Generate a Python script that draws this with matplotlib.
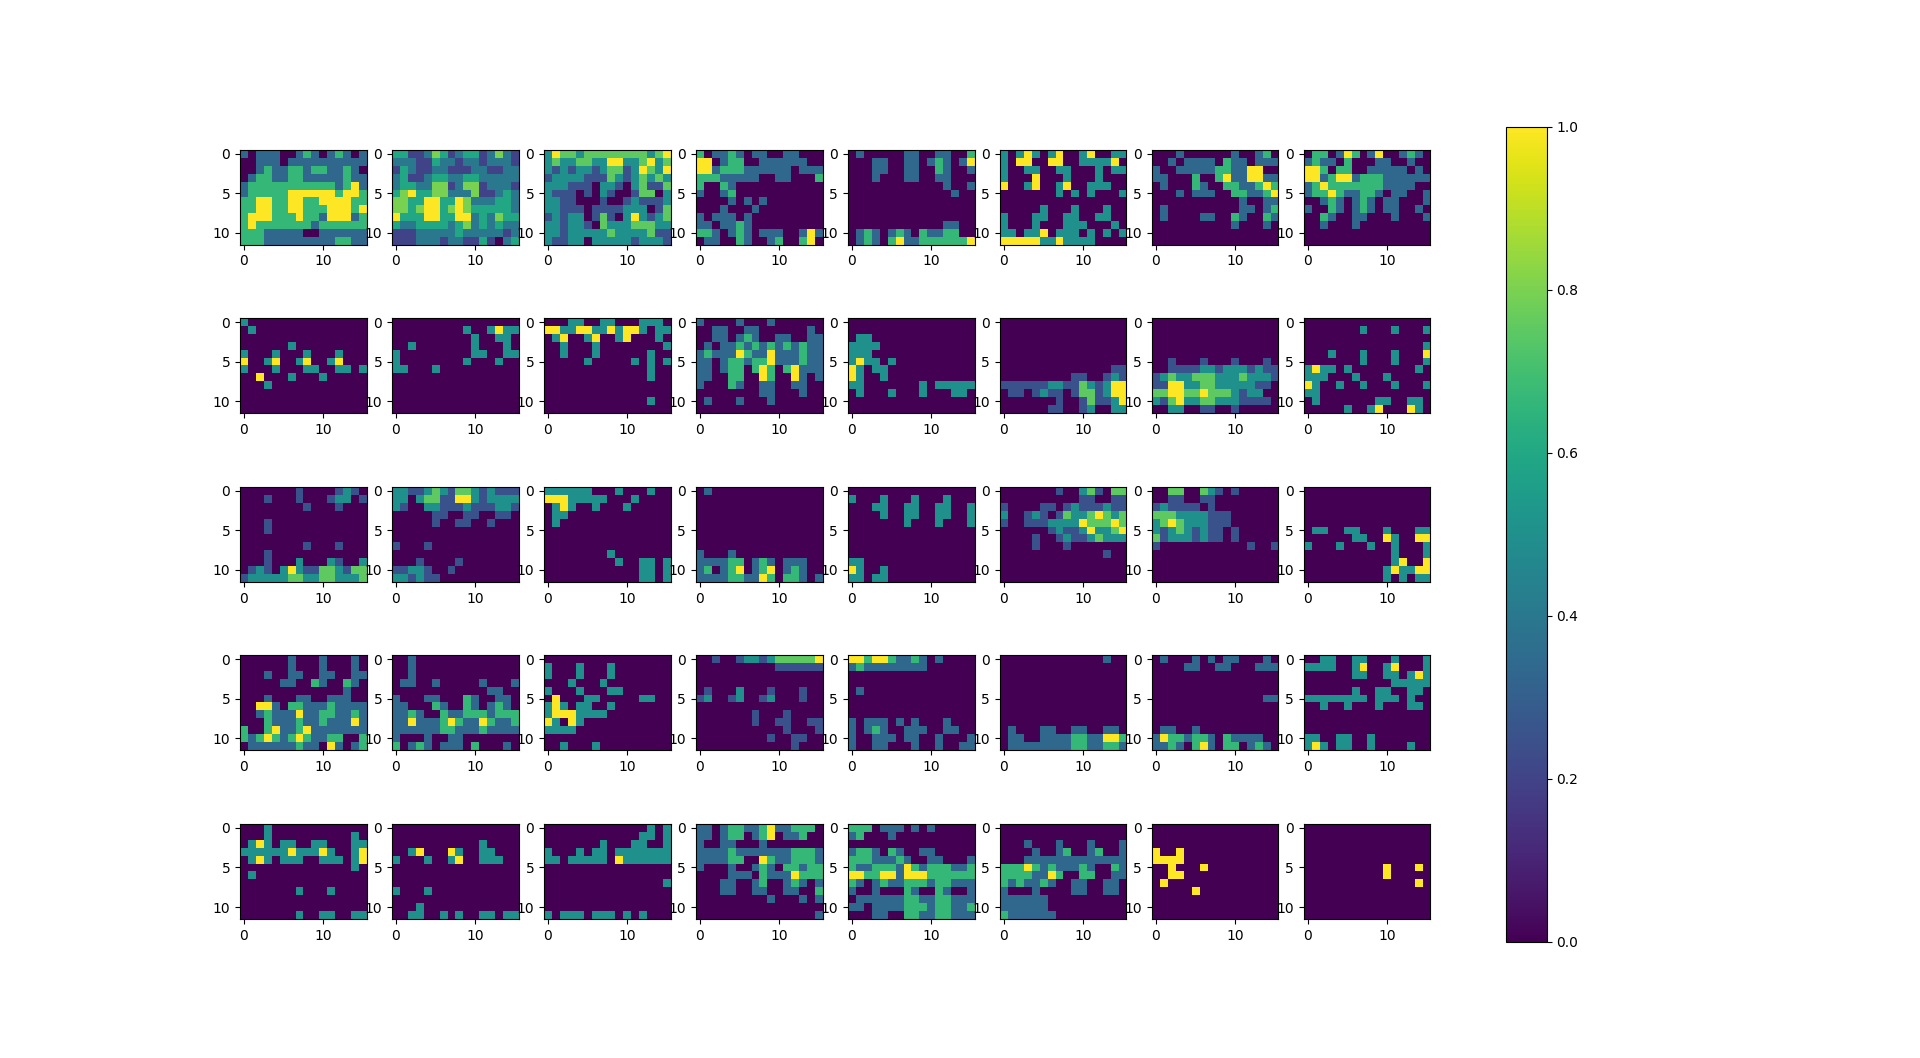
import numpy as np
import matplotlib
matplotlib.use("Agg")
import matplotlib.pyplot as plt
from matplotlib.cm import ScalarMappable
from matplotlib.colors import Normalize

Z = "0000000000000000"
LEVELS = {'0': 0, '2': 0.2, '3': 0.25, '4': 1/3, 'a': 0.4, '5': 0.5, '6': 0.6,
          '7': 2/3, '8': 0.75, '9': 0.8, 'X': 1}

P00 = ["4044400474047404","0044404444444444","0047447747744740","0477447744444744",
       "47777777777747X4","477777XXXXXX7XX7","77XX77XX77XXXX77","77XX77XX777XXX7X",
       "7XXX777X774XXX47","7X77777774777777","7774444400444444","7774444444447744"]
P01 = ["6622a962a662a9a2","aaa226aa2aa2aaa2","26a22aa222aa22aa","a622a66aa66aaaaa",
       "a66aa992a992aaa2","69X6699aaa922a6a","9966XX66X9aaa66a","9969XX69X966666a",
       "X666XX66XXa6a966","6aa6666a69a6a6aa","222aaaaa6aaaaa2a","222aaa2aa22620a6"]
P02 = ["5X8858888888858X","58558855XX558X58","535355358835X85X","3555533385358585",
       "5553330553058338","5333030530038805","5533000300353335","5533303333555038",
       "35355038305X5358","5535530855588855","5535555585555833","5335505555535553"]
P03 = ["7044740440044000","XX04770044444400","XX47774444440444","7774444400440007",
       "7007400000000000","4004700000000000","0000404040000000","0004000400000000",
       "4044404000000000","4404474000000000","77404740444004X4","04400740047007X0"]
P04 = ["0400000440044007","000440044047404X","0004400440074004","0004000440044000",
       "0000000000004004","0000000000000400",Z,Z,
       Z,"0000000000004400","0474047407447700","047407X44777777X"]
P05 = ["505X505X005X0055","50XX00XX005555X0","5005500550005055","5000X00050005000",
       "X005X005X0055500","0000000505050005",Z,"0000050005000500",
       "5000550055005500","5000500055500050","55055X0555050505","XXXXX55X55550000"]
P06 = ["0004000000400470","0040444407440444","400444447744XX00","440007007X44XX44",
       "04000740077447X7","000404440077447X","0000000000040044","0400000000044047",
       "0400004400740074","0000000000400040",Z,Z]
P07 = ["07704X704X004740","4744070004400400","XX70770044444040","XX47XX4777444444",
       "47X7777777444400","477X744774044004","0047404740440004","4007404740440040",
       "0074004400040004","0040004000000000",Z,Z]

P08 = ["5000000000000000","0500000000000000",Z,"0000005000000000",
       "5000500050005000","X005X005X005X000","5000500055005505","00X0005000500000",
       "0005000000000000",Z,Z,Z]
P09 = [Z,"0000000005005X55","0000000000500550","0050000000500050",
       "5000000000550055","5000000005000500","5500050000000000",Z,
       Z,Z,Z,Z]
P10 = ["0005500550005550","XX55XX55X5XX5055","05X005X005X00050","0050005000000005",
       "0050005000000500","0000050000050505","0000000000000500","0000000000000500",
       Z,Z,"0000000000000500",Z]
P11 = ["4000040004000000","0044004400000040","0044047400440044","0404474747474744",
       "47444X744X444744","440477477X444744","44047707X707X444","44007700X700X404",
       "4000740044004400","0000000044000400","0400040004000000",Z]
P12 = [Z,Z,"0550000000000000","5555000000000000",
       "5550000000000000","5X55050000000000","X505500000000000","X500500000000000",
       "5500000005055555","0500050005000550",Z,Z]
P13 = [Z,Z,Z,Z,
       Z,Z,"0000000000000033","0000000003300353",
       "33333355338535XX","03303533038835XX","000000030038335X","0000003300350055"]
P14 = [Z,Z,Z,Z,
       Z,"0030003000300030","0033335535553533","3585588855585553",
       "33XX558855555330","88XX88X888535500","538X558855533330","0055003300300000"]
P15 = [Z,"0000000500050005",Z,"0000000000000005",
       "000500050005000X","0000000500050005","5X55050000000050","5550005000500000",
       "X500500500050005","5500000000000000","0500000005500550","000005005X000X50"]

P16 = ["0000000300003530","0003000300035503","0000000030003000",Z,
       "0003000000000000","0003000000000000",Z,"0000000030003000",
       "0003000000000000","0003000500053005","035305X533885388","3555558855885558"]
P17 = ["5533585388535333","55058833XX535555","5300553335333553","0000033003300330",
       "0000030033003000",Z,Z,"3000300000000000",
       Z,"0003000030000000","3355300300000000","5535330000000000"]
P18 = ["5555550005000500","XXX5555500050000","05X5005000500000","0550000000000000",
       "0500000000000000",Z,Z,Z,
       "0000000050000000","0000000005005505","0000000000005505","0000000000005505"]
P19 = ["0400000000000000",Z,Z,Z,
       Z,Z,Z,Z,
       "4000400000000000","4444770474044400","47047X047X047400","44447744X7077404"]
P20 = [Z,"5000500050005000","0005500550055005","0000500550055005",
       "0000000500050005",Z,Z,Z,
       Z,"5500000000000000","X500500000000000","5505500000000000"]
P21 = ["0000000300583088","0000000000330033","3000033035333533","500353038558X858",
       "3003335555X888X8","00000035335X558X","0000300353358555","0000300030000000",
       "0000000000000300",Z,Z,Z]
P22 = ["0088008530300000","0033003300000000","3533330300000000","8885555333000000",
       "58X8555333000000","5358535330300000","8355535330300000","3000000000003003",
       Z,Z,Z,Z]
P23 = [Z,Z,Z,Z,
       Z,"0550055000500055","0000005500X500XX","5000500050050005",
       "0000000000050005","000000000005X00X","00000000005X55XX","0000000000505055"]

P24 = ["0000004000400040","0000004000400040","0004004400440044","0000044007400740",
       "0000000000000400","0004000440044400","00XX407744474444","0047444X44774474",
       "00074447447444X4","7007X447X4444444","747X747X74477007","04444447440X4047"]
P25 = ["0040000000000000","0040000000000000","0040000000000000","0440040000040004",
       "0000000000004400","4000440007400440","4400074007404740","4474007447774777",
       "44X4447X744X7447","4444447744474444","4000400440000000","7047404440700040"]
P26 = [Z,"5000500050000000","5000500050000000","0005000500000000",
       "5000500055000000","0X00055000005500","5X50550050000000","5XXX555500000000",
       "X50X500000000000","5555000000000000",Z,"0050005000000000"]
P27 = ["003003553588888X","0000000000333333",Z,Z,
       "0300050003000300","3500350035000300",Z,"0000000300030000",
       "0000000300330033","0000000000030003","0000000003003300","0000000000003000"]
P28 = ["XX7XX74474040000","4744444444000000",Z,Z,
       "0400000000000000",Z,Z,Z,
       "4044404040004000","4047400444004400","4004440440040004","4004400040040044"]
P29 = ["0000000000000400",Z,Z,Z,
       Z,Z,Z,Z,
       Z,"0400044004400440","0440044447744XX7","0444444447744774"]
P30 = ["0400040404400040","0000440044000444",Z,Z,
       Z,"0000000000000044",Z,Z,
       Z,"0440040000000000","4X77477407444400","447407X407704740"]
P31 = ["0055005500050005","5555005X005X0005","00000055005505X5","0000000000055555",
       "0000005005500550","5555555505550500","0050050005000550",Z,
       Z,Z,"5500550050000000","5X50550050000500"]

P32 = ["0005000000000000","0005000000000050","05X5055005500055","555555X555X5005X",
       "05X505550055505X","0000000000000050","0500000000000000",Z,
       "0000000500050000",Z,Z,"0000000500550055"]
P33 = [Z,Z,"0000000000050000","005X000X50055000",
       "50005005X0055500",Z,Z,Z,
       "5000500000000000",Z,"0005000000000000","0055005050055055"]
P34 = ["0000000000000505","0000000000005505","0000000500055005","5000505505555555",
       "550555550X555555",Z,Z,"0000000000000005",
       Z,Z,Z,"5055505550505000"]
P35 = ["440477447X447770","440477047X044700","4004400040000000","4444744444447774",
       "44447700X7447774","4000400474077477","000044407444X777","0004400470047404",
       "0004400440044007","0000000004000404",Z,"0000000000000004"]
P36 = ["7770444040400000","4700040000000000",Z,"4774074004400000",
       "7774447400440004","7447774X74777447","XX77XX4XXX777777","7404744777477444",
       "4004000740074004","0444444774477444","4404444777477447","0004400774477444"]
P37 = [Z,Z,"0004000400040004","0000400470047004",
       "0004444444444444","777X747444740074","777744X700770044","7474474004400440",
       "4000400004400440","4444440000000000","4444440000000000","7444444000000000"]
P38 = [Z,Z,Z,"X00X000000000000",
       "XXXX000000000000","00X000X000000000","00XX000000000000","0X00000000000000",
       "00000X0000000000",Z,Z,Z]
P39 = [Z,Z,Z,Z,
       Z,"0000000000X000X0","0000000000X00000","00000000000000X0",
       Z,Z,Z,Z]

PANELS = [P00,P01,P02,P03,P04,P05,P06,P07,
          P08,P09,P10,P11,P12,P13,P14,P15,
          P16,P17,P18,P19,P20,P21,P22,P23,
          P24,P25,P26,P27,P28,P29,P30,P31,
          P32,P33,P34,P35,P36,P37,P38,P39]


def decode(rows):
    return np.array([[LEVELS[c] for c in r.ljust(16, '0')[:16]] for r in rows], dtype=float)


fig, axes = plt.subplots(5, 8, figsize=(19.2, 10.58), dpi=100)
fig.subplots_adjust(left=0.125, right=0.745, bottom=0.11, top=0.88, wspace=0.2, hspace=0.2)
for ax, rows in zip(axes.flat, PANELS):
    ax.imshow(decode(rows), cmap="viridis", vmin=0, vmax=1)

cax = fig.add_axes([0.7842, 0.11, 0.0214, 0.77])
fig.colorbar(ScalarMappable(Normalize(0, 1), cmap="viridis"), cax=cax)
fig.savefig("out.png", dpi=100)
